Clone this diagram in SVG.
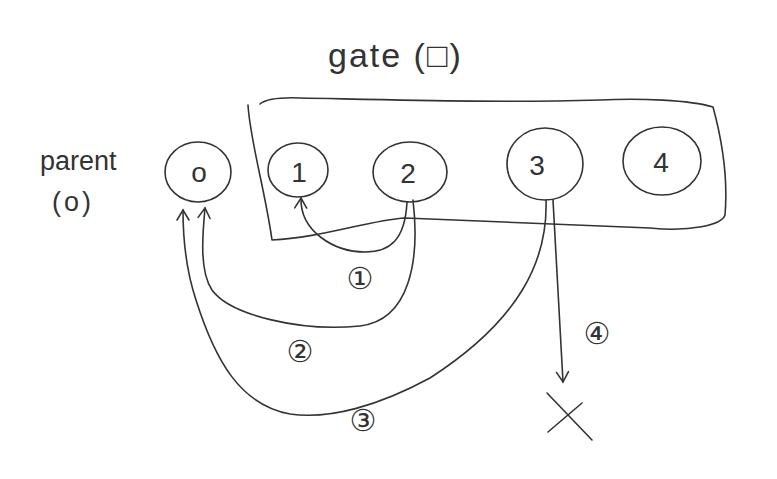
<svg xmlns="http://www.w3.org/2000/svg" width="777" height="479" viewBox="0 0 777 479">
<defs>
<style>
.s{fill:none;stroke:#333;stroke-width:1.6;stroke-linecap:round;stroke-linejoin:round}
.t{font-family:"Liberation Sans","DejaVu Sans",sans-serif;fill:#333}
.d{font-family:"Liberation Sans",sans-serif;fill:#333;font-size:28px;text-anchor:middle}
.c{font-family:"DejaVu Sans","Noto Sans CJK SC",sans-serif;fill:#333;font-size:30px;text-anchor:middle}
</style>
<marker id="ah" viewBox="-12 -8 14 16" markerWidth="14" markerHeight="16" refX="0" refY="0" orient="auto" markerUnits="userSpaceOnUse">
<path d="M-10,-6 L0,0 L-10,6" fill="none" stroke="#333" stroke-width="1.6" stroke-linecap="round"/>
</marker>
</defs>
<rect width="777" height="479" fill="#fff"/>
<text class="t" x="328" y="67" font-size="34" letter-spacing="2">gate (□)</text>
<text class="t" x="40" y="170" font-size="27">parent</text>
<text class="t" x="52" y="211" font-size="27" letter-spacing="3">(o)</text>
<g id="gate">
<path class="s" d="M248,105 C250,140 265,190 272,240 C320,238 370,220 405,218 L650,228 C690,232 722,225 725,215 C728,180 722,140 713,107 C690,100 640,98 600,100 C500,103 400,100 300,98 C275,97 265,100 260,104"/>
</g>
<g id="node0"><ellipse class="s" cx="198" cy="172" rx="33" ry="30"/><text class="d" x="199" y="182" font-size="24">o</text></g>
<g id="node1"><ellipse class="s" cx="298" cy="170" rx="30" ry="27"/><text class="d" x="299" y="182">1</text></g>
<g id="node2"><ellipse class="s" cx="410" cy="172" rx="37" ry="30"/><text class="d" x="408" y="183">2</text></g>
<g id="node3"><ellipse class="s" cx="545" cy="164" rx="38" ry="36"/><text class="d" x="537" y="175">3</text></g>
<g id="node4"><ellipse class="s" cx="662" cy="161" rx="39" ry="34"/><text class="d" x="661" y="172">4</text></g>
<g id="connectors">
<path class="s" marker-end="url(#ah)" d="M407,202 C405,240 390,252 365,252 C335,252 300,232 301,198"/>
<path class="s" marker-end="url(#ah)" d="M413,200 C420,260 410,320 360,326 C300,332 230,315 212,290 C200,272 202,240 205,208"/>
<path class="s" marker-end="url(#ah)" d="M546,200 C548,260 520,320 430,378 C380,405 330,420 290,414 C240,405 215,360 196,300 C186,270 183,240 183,210"/>
<path class="s" marker-end="url(#ah)" d="M553,200 L563,382"/>
<text class="c" x="360" y="289">①</text>
<text class="c" x="300" y="362">②</text>
<text class="c" x="363" y="431">③</text>
<text class="c" x="597" y="344">④</text>
</g>
<g id="cross">
<path class="s" d="M547,393 L592,440 M548,432 L582,403"/>
</g>
</svg>
